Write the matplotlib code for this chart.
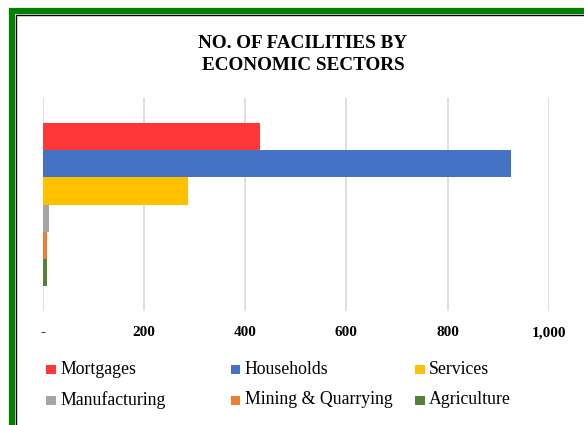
import matplotlib.pyplot as plt
from matplotlib.patches import Rectangle
from matplotlib.ticker import FuncFormatter

plt.rcParams['font.family'] = ['Liberation Serif', 'DejaVu Serif']

# facilities per sector, top to bottom as drawn
sectors = ["Mortgages", "Households", "Services",
           "Manufacturing", "Mining & Quarrying", "Agriculture"]
facilities = [429, 926, 287, 13, 8, 8]
colors = ["#FF3737", "#4472C4", "#FFC000", "#A5A5A5", "#ED7D31", "#548235"]

W, H = 584, 425
fig = plt.figure(figsize=(W / 100, H / 100), dpi=100)
fig.patch.set_facecolor("white")

ax = fig.add_axes([42.7 / W, 1 - 311 / H, 506 / W, 213 / H])

pos = range(len(sectors))
ax.barh(pos, facilities, height=1.0, color=colors, zorder=3)

# one category with 30% gap width around the cluster
ax.set_ylim(len(sectors) + 0.4, -1.4)
ax.set_xlim(0, 1000)
ax.set_xticks(range(0, 1001, 200))
ax.xaxis.set_major_formatter(FuncFormatter(lambda v, p: "-" if v == 0 else f"{int(v):,}"))
ax.set_yticks([])
ax.grid(axis="x", color="#D9D9D9", linewidth=1.2, zorder=0)
for s in ax.spines.values():
    s.set_visible(False)
ax.tick_params(axis="x", length=0, pad=11, labelsize=11)
for lbl in ax.get_xticklabels():
    lbl.set_fontweight("bold")

fig.text(303 / W, 1 - 35.5 / H, "NO. OF FACILITIES BY\nECONOMIC SECTORS",
         ha="center", va="top", fontsize=13.8, fontweight="bold",
         linespacing=1.32)

# legend laid out in a fixed 3-column grid
col_x = [46, 230.7, 415]
row_y = [369, 400]
for i, (name, c) in enumerate(zip(sectors, colors)):
    x = col_x[i % 3]
    y = row_y[i // 3]
    fig.add_artist(Rectangle((x / W, 1 - (y + 5) / H), 9.5 / W, 9.5 / H,
                             transform=fig.transFigure, color=c, lw=0))
    fig.text((x + 14) / W, 1 - y / H, name, ha="left", va="center",
             fontsize=12.8)

# green outer frame with thin black inner edge
fig.add_artist(Rectangle((12 / W, -0.2), 1.2, 1.2 - 11 / H,
                         transform=fig.transFigure, fill=False,
                         edgecolor="#008000", lw=4.5))
fig.add_artist(Rectangle((15.5 / W, -0.2), 1.2, 1.2 - 14.5 / H,
                         transform=fig.transFigure, fill=False,
                         edgecolor="black", lw=1.0))

fig.savefig("out.png", dpi=100)
